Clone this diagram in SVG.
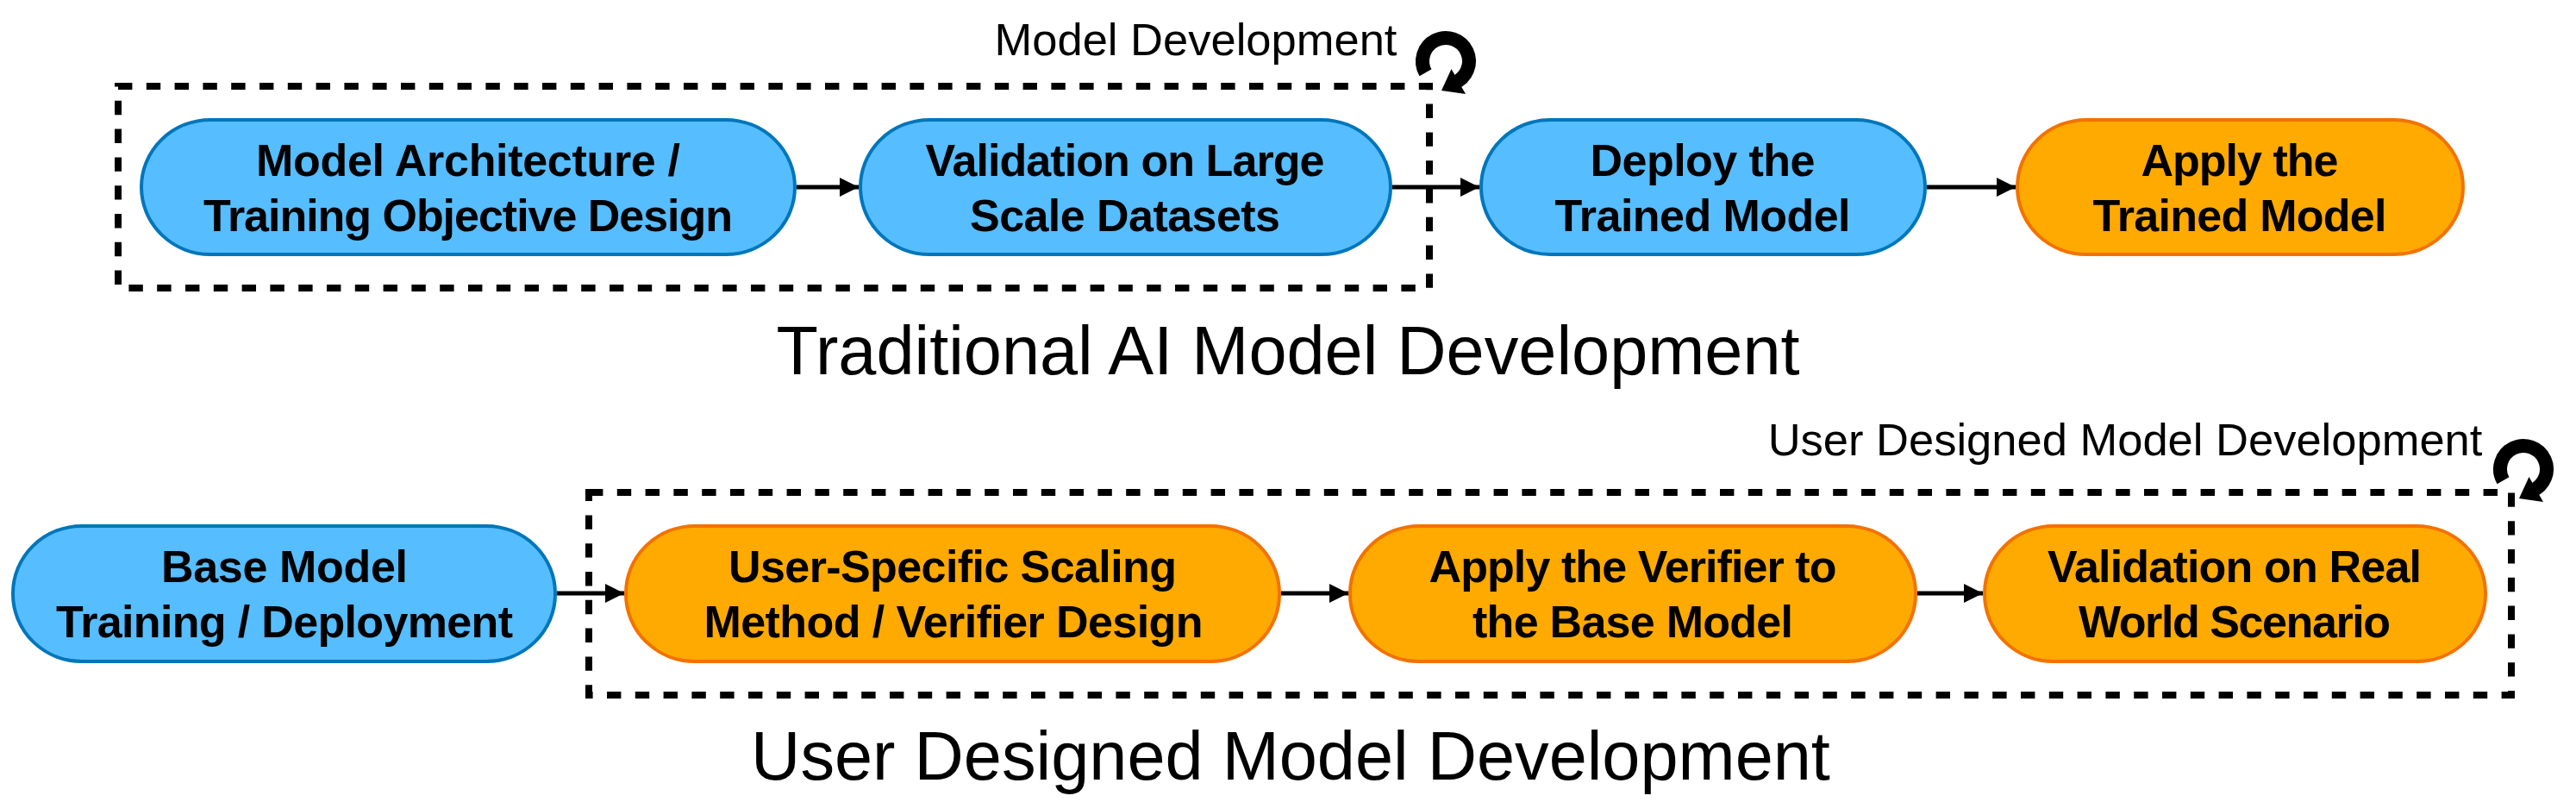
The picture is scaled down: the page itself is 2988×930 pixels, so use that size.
<svg xmlns="http://www.w3.org/2000/svg" width="2988" height="930" viewBox="0 0 2988 930">
<style>
text{font-family:"Liberation Sans",Arial,sans-serif;fill:#000;text-anchor:middle}
.l{font-weight:bold;font-size:52px}
.t{font-size:79.300px}
.s{font-size:52.500px}
.b{fill:#56BDFF;stroke:#0076BA;stroke-width:4}
.o{fill:#FFAA00;stroke:#F27200;stroke-width:4}
.d{fill:none;stroke:#000;stroke-width:8;stroke-dasharray:16.4 16.4}
.c{fill:none;stroke:#000;stroke-width:5}
</style>
<defs>
<marker id="a" markerUnits="userSpaceOnUse" markerWidth="22" markerHeight="22" refX="22" refY="11" orient="auto"><path d="M0 0L22 11L0 22Z" fill="#000"/></marker>
<g id="loop"><path d="M-23.500 13.300A27 27 0 1 1 10 25.080" fill="none" stroke="#000" stroke-width="16"/><path d="M6.500 9L23 38L-5 34Z" fill="#000"/></g>
</defs>
<rect width="2988" height="930" fill="#fff"/>
<g id="connectors">
<path class="c" marker-end="url(#a)" d="M924 217H996"/>
<path class="c" marker-end="url(#a)" d="M1615 217H1716"/>
<path class="c" marker-end="url(#a)" d="M2235 217H2338"/>
<path class="c" marker-end="url(#a)" d="M646 688H724"/>
<path class="c" marker-end="url(#a)" d="M1486 688H1564"/>
<path class="c" marker-end="url(#a)" d="M2224 688H2300"/>
</g>
<g id="box-model-dev"><rect class="d" x="137" y="100" width="1521" height="234"/><use href="#loop" x="1677" y="71"/><text class="s" x="1387" y="64">Model Development</text></g>
<g id="box-user-dev"><rect class="d" x="683" y="571" width="2230" height="235"/><use href="#loop" x="2927" y="544"/><text class="s" x="2465" y="528">User Designed Model Development</text></g>
<g id="n1"><rect class="b" x="164" y="139" width="758" height="156" rx="80" ry="78"/><text class="l" x="543" y="204" textLength="492">Model Architecture /</text><text class="l" x="543" y="268" textLength="614">Training Objective Design</text></g>
<g id="n2"><rect class="b" x="998" y="139" width="615" height="156" rx="80" ry="78"/><text class="l" x="1305" y="204" textLength="463">Validation on Large</text><text class="l" x="1305" y="268" textLength="360">Scale Datasets</text></g>
<g id="n3"><rect class="b" x="1718" y="139" width="515" height="156" rx="80" ry="78"/><text class="l" x="1975" y="204" textLength="261">Deploy the</text><text class="l" x="1975" y="268" textLength="343">Trained Model</text></g>
<g id="n4"><rect class="o" x="2340" y="139" width="517" height="156" rx="80" ry="78"/><text class="l" x="2598" y="204" textLength="229">Apply the</text><text class="l" x="2598" y="268" textLength="341">Trained Model</text></g>
<text class="t" x="1494" y="434">Traditional AI Model Development</text>
<g id="n5"><rect class="b" x="15" y="610" width="629" height="157" rx="80" ry="78"/><text class="l" x="330" y="675" textLength="286">Base Model</text><text class="l" x="330" y="739" textLength="530">Training / Deployment</text></g>
<g id="n6"><rect class="o" x="726" y="610" width="758" height="157" rx="80" ry="78"/><text class="l" x="1105" y="675" textLength="520">User-Specific Scaling</text><text class="l" x="1106" y="739" textLength="579">Method / Verifier Design</text></g>
<g id="n7"><rect class="o" x="1566" y="610" width="656" height="157" rx="80" ry="78"/><text class="l" x="1894" y="675" textLength="473">Apply the Verifier to</text><text class="l" x="1894" y="739" textLength="372">the Base Model</text></g>
<g id="n8"><rect class="o" x="2302" y="610" width="581" height="157" rx="80" ry="78"/><text class="l" x="2592" y="675" textLength="434">Validation on Real</text><text class="l" x="2592" y="739" textLength="362">World Scenario</text></g>
<text class="t" x="1497" y="904">User Designed Model Development</text>
</svg>
